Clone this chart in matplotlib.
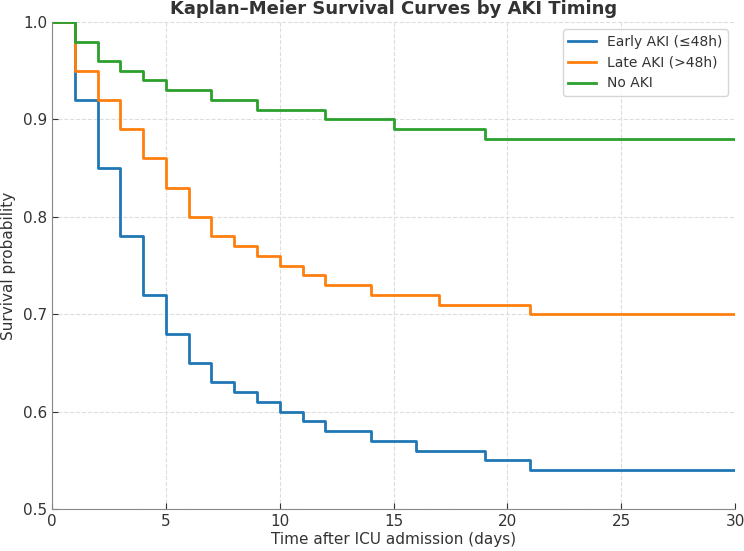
import numpy as np
import matplotlib.pyplot as plt

# survival data (step points, post)
t_early = [0, 1, 2, 3, 4, 5, 6, 7, 8, 9, 10, 11, 12, 14, 16, 19, 21, 30]
s_early = [1.0, 0.92, 0.85, 0.78, 0.72, 0.68, 0.65, 0.63, 0.62, 0.61, 0.60, 0.59, 0.58, 0.57, 0.56, 0.55, 0.54, 0.54]

t_late = [0, 1, 2, 3, 4, 5, 6, 7, 8, 9, 10, 11, 12, 14, 17, 21, 30]
s_late = [1.0, 0.95, 0.92, 0.89, 0.86, 0.83, 0.80, 0.78, 0.77, 0.76, 0.75, 0.74, 0.73, 0.72, 0.71, 0.70, 0.70]

t_none = [0, 1, 2, 3, 4, 5, 7, 9, 12, 15, 19, 30]
s_none = [1.0, 0.98, 0.96, 0.95, 0.94, 0.93, 0.92, 0.91, 0.90, 0.89, 0.88, 0.88]

labels = ['Early AKI (≤48h)', 'Late AKI (>48h)', 'No AKI']

fig = plt.figure(figsize=(7.44, 5.51), dpi=100)
ax = fig.add_axes([0.070, 0.076, 0.918, 0.884])

ax.step(t_early, s_early, where='post', color='#1f77b4', lw=2, label=labels[0])
ax.step(t_late, s_late, where='post', color='#ff7f0e', lw=2, label=labels[1])
ax.step(t_none, s_none, where='post', color='#2ca02c', lw=2, label=labels[2])

ax.set_xlim(0, 30)
ax.set_ylim(0.5, 1.0)
ax.set_xticks([0, 5, 10, 15, 20, 25, 30])
ax.set_yticks([0.5, 0.6, 0.7, 0.8, 0.9, 1.0])
ax.grid(True, ls='--', color='#dddddd', lw=0.8)
ax.set_axisbelow(True)

for s in ['top', 'right']:
    ax.spines[s].set_visible(False)
for s in ['left', 'bottom']:
    ax.spines[s].set_color('#888888')
ax.tick_params(colors='#333333', labelsize=11, direction='in', length=4)

ax.set_xlabel('Time after ICU admission (days)', fontsize=11, color='#333333', labelpad=2)
ax.set_ylabel('Survival probability', fontsize=11, color='#333333', labelpad=5)
ax.set_title('Kaplan–Meier Survival Curves by AKI Timing', fontsize=13, fontweight='bold', color='#333333', pad=6)

leg = ax.legend(loc='upper right', fontsize=10, frameon=True)
for txt in leg.get_texts():
    txt.set_color('#333333')

fig.savefig('out.png', dpi=100)
